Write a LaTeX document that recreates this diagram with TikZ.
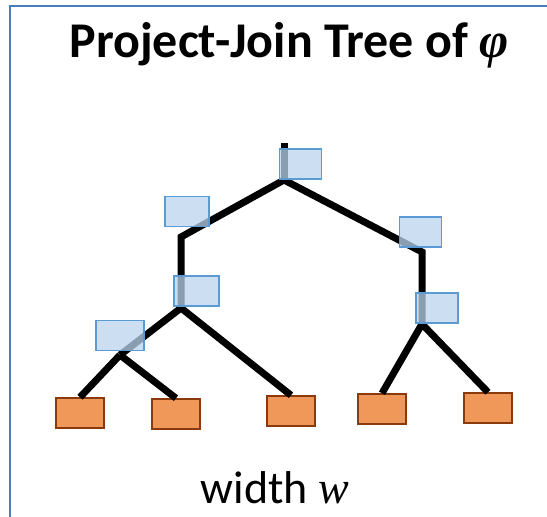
\documentclass[tikz,border=0pt]{standalone}
\usepackage{fontspec}
\setmainfont{Carlito}
\newfontfamily\varfont{Liberation Serif}
\usepackage{tikz}

\definecolor{frameblue}{HTML}{4A7EBB}
\definecolor{pjfill}{HTML}{B9D3EE}
\definecolor{pjdraw}{HTML}{5B9BD5}
\definecolor{leaffill}{HTML}{F0975A}
\definecolor{leafdraw}{HTML}{8B3A0E}

\tikzset{
    treeline/.style={draw=black,line width=7pt},
    leaf/.style={draw=leafdraw,fill=leaffill,line width=1.5pt,minimum width=48pt,minimum height=30pt,inner sep=0pt},
    pjbox/.style={draw=pjdraw,fill=pjfill,fill opacity=0.75,line width=1.5pt,minimum width=42pt,minimum height=30pt,inner sep=0pt}
}

\begin{document}
\begin{tikzpicture}[x=1pt,y=-1pt]
    \useasboundingbox (0,0) rectangle (547,517);
    \draw[draw=frameblue,line width=2.5pt] (10,517) -- (10,6) -- (547,6);

    \node[font=\fontsize{50}{54}\selectfont\bfseries,anchor=base,inner sep=0pt] (title) at (289,57) {Project-Join Tree of {\varfont\itshape φ}};

    % tree points
    \coordinate (stub) at (284,143);
    \coordinate (r) at (284,180);
    \coordinate (a) at (181,237);
    \coordinate (c) at (181,308);
    \coordinate (e) at (120,355);
    \coordinate (b) at (422,252);
    \coordinate (d) at (422,324);

    % leaves
    \node[leaf] (l1) at (80,413) {};
    \node[leaf] (l2) at (176,414) {};
    \node[leaf] (l3) at (291,411) {};
    \node[leaf] (l4) at (382,409) {};
    \node[leaf] (l5) at (488,408) {};

    \draw[treeline] (stub) -- (r);
    \draw[treeline] (r) -- (a) -- (c);
    \draw[treeline] (c) -- (e);
    \draw[treeline] (c) -- (l3.north);
    \draw[treeline] (e) -- (l1.north);
    \draw[treeline] (e) -- (l2.north);
    \draw[treeline] (r) -- (b) -- (d);
    \draw[treeline] (d) -- (l4.north);
    \draw[treeline] (d) -- (l5.north);

    % project-join boxes
    \node[pjbox] (pr) at (300.5,164) {};
    \node[pjbox,minimum width=44pt] (pa) at (187,211.5) {};
    \node[pjbox] (pb) at (420.5,232) {};
    \node[pjbox,minimum width=45pt] (pc) at (196.5,291) {};
    \node[pjbox] (pd) at (437,308) {};
    \node[pjbox,minimum width=48pt] (pe) at (120,335.5) {};

    \node[font=\fontsize{46}{50}\selectfont,anchor=base,inner sep=0pt] (wlabel) at (275,503) {width {\varfont\itshape w}};
\end{tikzpicture}
\end{document}
